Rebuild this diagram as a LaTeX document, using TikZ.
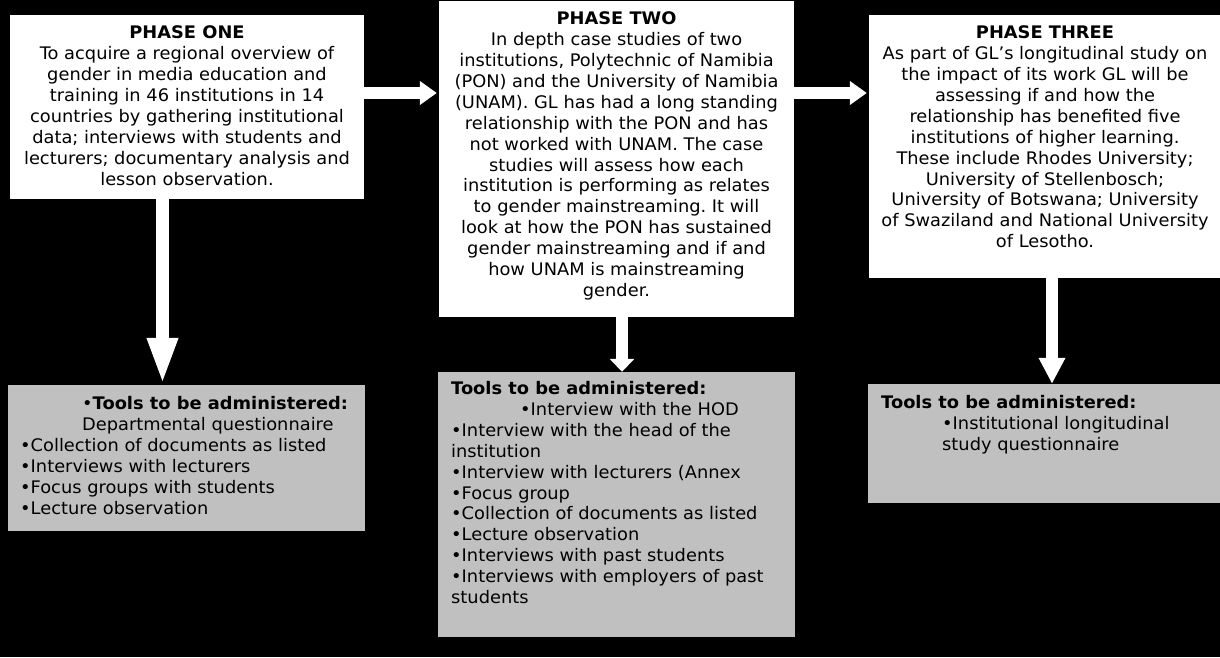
\documentclass[tikz,border=0pt]{standalone}
\usepackage{fontspec}
\setmainfont{DejaVu Sans}[FakeStretch=1.03]
\usetikzlibrary{arrows.meta,calc}
\definecolor{greybox}{HTML}{C0C0C0}
\frenchspacing
\begin{document}
\begin{tikzpicture}[x=1pt,y=1pt,
  font=\fontsize{17.3}{20.9}\selectfont\frenchspacing,
  whitebox/.style={rectangle, fill=white, draw=none, inner sep=0pt},
  greyboxst/.style={rectangle, fill=greybox, draw=none, inner sep=0pt},
  boxtext/.style={inner sep=0pt, align=center, anchor=north, text=black},
  listtext/.style={inner sep=0pt, align=left, anchor=north west, text=black},
  harrow/.style={draw=white, line width=12.6pt, -{Triangle[length=17pt,width=23pt]}},
]
\useasboundingbox (0,0) rectangle (1220,657);
\fill[black] (0,0) rectangle (1220,657);

% phase boxes
\node[whitebox, minimum width=354pt, minimum height=184pt] (p1) at (187,550) {};
\node[whitebox, minimum width=355pt, minimum height=316pt] (p2) at (616.5,498) {};
\node[whitebox, minimum width=351pt, minimum height=263pt] (p3) at (1044.5,510.5) {};

% tool boxes
\node[greyboxst, minimum width=357pt, minimum height=146pt] (g1) at (186.5,199) {};
\node[greyboxst, minimum width=357pt, minimum height=265pt] (g2) at (616.5,152.5) {};
\node[greyboxst, minimum width=352pt, minimum height=119pt] (g3) at (1044,213.5) {};

% phase texts
\node[boxtext] (t1) at (187,631.3) {\textbf{PHASE ONE}\\
To acquire a regional overview of\\
gender in media education and\\
training in 46 institutions in 14\\
countries by gathering institutional\\
data; interviews with students and\\
lecturers; documentary analysis and\\
lesson observation.};

\node[boxtext] (t2) at (616.5,645.3) {\textbf{PHASE TWO}\\
In depth case studies of two\\
institutions, Polytechnic of Namibia\\
(PON) and the University of Namibia\\
(UNAM). GL has had a long standing\\
relationship with the PON and has\\
not worked with UNAM. The case\\
studies will assess how each\\
institution is performing as relates\\
to gender mainstreaming. It will\\
look at how the PON has sustained\\
gender mainstreaming and if and\\
how UNAM is mainstreaming\\
gender.};

\node[boxtext] (t3) at (1045,631.3) {\textbf{PHASE THREE}\\
As part of GL’s longitudinal study on\\
the impact of its work GL will be\\
assessing if and how the\\
relationship has benefited five\\
institutions of higher learning.\\
These include Rhodes University;\\
University of Stellenbosch;\\
University of Botswana; University\\
of Swaziland and National University\\
of Lesotho.};

% tool texts
\node[listtext] (l1) at (20,260.8) {\hspace*{62pt}•\textbf{Tools to be administered:}\\
\hspace*{62pt}Departmental questionnaire\\
•Collection of documents as listed\\
•Interviews with lecturers\\
•Focus groups with students\\
•Lecture observation};

\node[listtext] (l2) at (451,275.8) {\textbf{Tools to be administered:}\\
\hspace*{69pt}•Interview with the HOD\\
•Interview with the head of the\\
institution\\
•Interview with lecturers (Annex\\
•Focus group\\
•Collection of documents as listed\\
•Lecture observation\\
•Interviews with past students\\
•Interviews with employers of past\\
students};

\node[listtext] (l3) at (881,261.8) {\textbf{Tools to be administered:}\\
\hspace*{61pt}•Institutional longitudinal\\
\hspace*{61pt}study questionnaire};

% horizontal arrows
\draw[harrow] (p1.east |- 0,564) -- ([xshift=-2pt]p2.west |- 0,564);
\draw[harrow] (p2.east |- 0,564) -- ([xshift=-2pt]p3.west |- 0,564);

% vertical arrows
\draw[draw=white, line width=13pt, -{Triangle[length=47pt,width=28pt]}]
  (p1.south -| 162.5,0) -- (g1.north -| 162.5,0);
\draw[draw=white, line width=12pt, -{Triangle[length=13pt,width=24pt]}]
  (p2.south -| 622,0) -- (g2.north -| 622,0);
\draw[draw=white, line width=12pt, -{Triangle[length=26pt,width=25pt]}]
  (p3.south -| 1052,0) -- (g3.north -| 1052,0);
\end{tikzpicture}
\end{document}
